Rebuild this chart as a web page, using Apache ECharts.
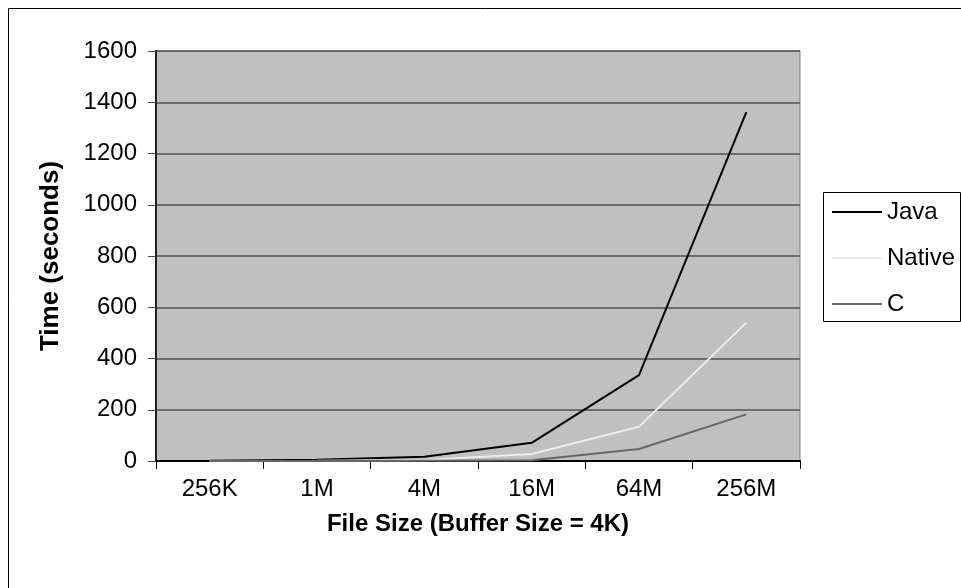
<!DOCTYPE html>
<html>
<head>
<meta charset="utf-8">
<script src="https://cdn.jsdelivr.net/npm/echarts@6/dist/echarts.min.js"></script>
<style>
  html, body { margin: 0; padding: 0; background: #fff; }
  #chart { width: 961px; height: 588px; }
</style>
</head>
<body>
<div id="chart"></div>
<script>
// File sizes tested (buffer size fixed at 4K)
const fileSizes = ['256K', '1M', '4M', '16M', '64M', '256M'];

// Elapsed time in seconds per implementation
const javaTimes   = [1, 5, 17, 71, 335, 1361];
const nativeTimes = [0, 1, 4, 27, 134, 540];
const cTimes      = [0, 0, 1, 3, 47, 182];

// Y axis ticks
const timeTicks = [0, 200, 400, 600, 800, 1000, 1200, 1400, 1600];

const font = 'Liberation Sans, Arial, Helvetica, sans-serif';

const chart = echarts.init(document.getElementById('chart'), null, { renderer: 'canvas' });

function lineSeries(name, data, color) {
  return {
    name: name,
    type: 'line',
    data: data,
    symbol: 'none',
    smooth: false,
    lineStyle: { color: color, width: 2 },
    itemStyle: { color: color },
    z: 3
  };
}

chart.setOption({
  animation: false,
  backgroundColor: '#ffffff',
  textStyle: { fontFamily: font },
  grid: {
    left: 156, right: 161, top: 51, bottom: 127,
    show: true,
    backgroundColor: '#c0c0c0',
    borderColor: '#808080',
    borderWidth: 1
  },
  graphic: [
    {
      type: 'rect',
      shape: { x: 8.5, y: 8.5, width: 1000, height: 700 },
      style: { fill: 'none', stroke: '#000', lineWidth: 1 },
      silent: true,
      z: -10
    },
    {
      type: 'rect',
      shape: { x: 823.5, y: 192.5, width: 137, height: 129 },
      style: { fill: '#fff', stroke: '#000', lineWidth: 1 },
      silent: true,
      z: 1
    }
  ],
  legend: {
    orient: 'vertical',
    left: 832,
    top: 200,
    padding: 0,
    itemWidth: 50,
    itemHeight: 2,
    itemGap: 22,
    icon: 'rect',
    z: 5,
    textStyle: { fontFamily: font, fontSize: 24, color: '#000' },
    data: ['Java', 'Native', 'C']
  },
  xAxis: {
    type: 'category',
    data: fileSizes,
    boundaryGap: true,
    name: 'File Size (Buffer Size = 4K)',
    nameLocation: 'middle',
    nameGap: 51,
    nameTextStyle: { fontFamily: font, fontSize: 24, fontWeight: 'bold', color: '#000' },
    axisLine: { lineStyle: { color: '#000', width: 2 } },
    axisTick: { show: true, length: 8, lineStyle: { color: '#000', width: 1 } },
    axisLabel: { fontFamily: font, fontSize: 24, color: '#000', margin: 16 },
    splitLine: { show: false }
  },
  yAxis: {
    type: 'value',
    min: timeTicks[0],
    max: timeTicks[timeTicks.length - 1],
    interval: timeTicks[1] - timeTicks[0],
    name: 'Time (seconds)',
    nameLocation: 'middle',
    nameGap: 92,
    nameTextStyle: { fontFamily: font, fontSize: 26, fontWeight: 'bold', color: '#000' },
    axisLine: { show: true, lineStyle: { color: '#222', width: 2 } },
    axisTick: { show: true, length: 8, inside: false, lineStyle: { color: '#444', width: 1 } },
    axisLabel: {
      fontFamily: font, fontSize: 24, color: '#000', margin: 19,
      formatter: function (v) { return String(v); }
    },
    splitLine: { show: true, lineStyle: { color: '#505050', width: 1.5 } }
  },
  series: [
    lineSeries('Java', javaTimes, '#000000'),
    lineSeries('Native', nativeTimes, '#ebebeb'),
    lineSeries('C', cTimes, '#666666')
  ]
});
</script>
</body>
</html>
